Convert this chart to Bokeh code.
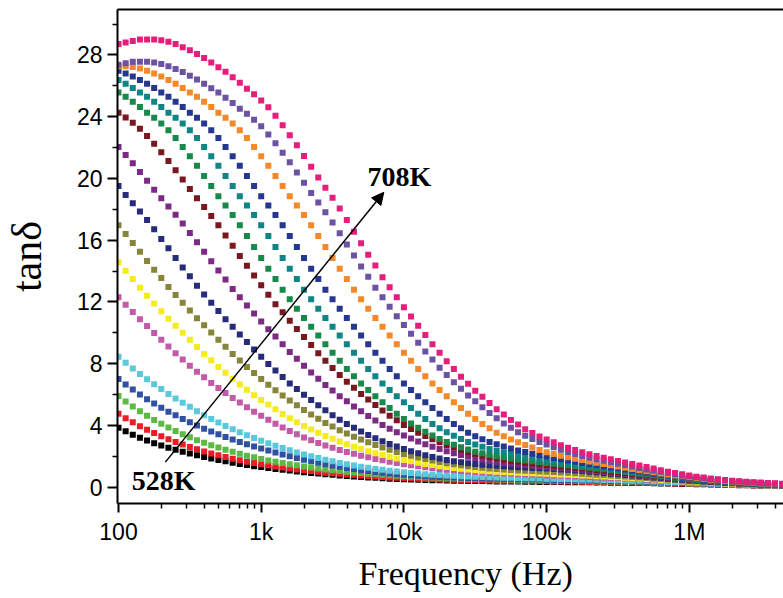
from bokeh.plotting import figure
from bokeh.models import Range1d, FixedTicker, LogAxis, Label, Arrow, NormalHead, Title
from bokeh.embed import file_html
from bokeh.resources import INLINE

freq = [100, 112.2, 125.9, 141.3, 158.5, 177.8, 199.5, 223.9, 251.2, 281.8,
        316.2, 354.8, 398.1, 446.7, 501.2, 562.3, 631, 707.9, 794.3, 891.3,
        1000, 1122, 1259, 1413, 1585, 1778, 1995, 2239, 2512, 2818,
        3162, 3548, 3981, 4467, 5012, 5623, 6310, 7079, 7943, 8913,
        10000, 11220, 12590, 14130, 15850, 17780, 19950, 22390, 25120, 28180,
        31620, 35480, 39810, 44670, 50120, 56230, 63100, 70790, 79430, 89130,
        100000, 112200, 125900, 141300, 158500, 177800, 199500, 223900, 251200, 281800,
        316200, 354800, 398100, 446700, 501200, 562300, 631000, 707900, 794300, 891300,
        1000000, 1122000, 1259000, 1413000, 1585000, 1778000, 1995000, 2239000, 2512000, 2818000,
        3162000, 3548000, 3981000, 4467000, 5012000, 5623000]

t528 = [3.85, 3.62, 3.4, 3.2, 3.02, 2.85, 2.69, 2.55, 2.42, 2.3,
        2.18, 2.07, 1.96, 1.86, 1.76, 1.67, 1.58, 1.5, 1.43, 1.36,
        1.3, 1.24, 1.18, 1.12, 1.07, 1.02, 0.97, 0.92, 0.88, 0.84,
        0.8, 0.76, 0.72, 0.69, 0.66, 0.63, 0.6, 0.57, 0.55, 0.53,
        0.51, 0.49, 0.48, 0.46, 0.45, 0.44, 0.43, 0.42, 0.41, 0.4,
        0.39, 0.39, 0.38, 0.37, 0.37, 0.36, 0.36, 0.35, 0.35, 0.34,
        0.34, 0.33, 0.33, 0.32, 0.32, 0.31, 0.31, 0.3, 0.3, 0.29,
        0.29, 0.28, 0.27, 0.27, 0.26, 0.25, 0.24, 0.23, 0.22, 0.21,
        0.2, 0.19, 0.18, 0.17, 0.16, 0.15, 0.14, 0.13, 0.12, 0.11,
        0.1, 0.09, 0.08, 0.07, 0.06, 0.05]
t1 = [4.75, 4.47, 4.2, 3.95, 3.72, 3.5, 3.3, 3.11, 2.93, 2.76,
      2.6, 2.45, 2.31, 2.18, 2.06, 1.95, 1.84, 1.74, 1.65, 1.56,
      1.48, 1.41, 1.34, 1.27, 1.21, 1.15, 1.09, 1.04, 0.99, 0.94,
      0.9, 0.86, 0.82, 0.78, 0.75, 0.72, 0.69, 0.66, 0.63, 0.61,
      0.59, 0.57, 0.55, 0.53, 0.52, 0.5, 0.49, 0.48, 0.47, 0.46,
      0.45, 0.44, 0.43, 0.42, 0.42, 0.41, 0.4, 0.4, 0.39, 0.39,
      0.38, 0.37, 0.37, 0.36, 0.36, 0.35, 0.34, 0.34, 0.33, 0.32,
      0.32, 0.31, 0.3, 0.29, 0.28, 0.27, 0.26, 0.25, 0.24, 0.23,
      0.22, 0.21, 0.2, 0.19, 0.18, 0.17, 0.16, 0.15, 0.14, 0.13,
      0.12, 0.1, 0.09, 0.08, 0.07, 0.06]
t2 = [5.9, 5.55, 5.22, 4.91, 4.62, 4.35, 4.1, 3.86, 3.64, 3.43,
      3.23, 3.04, 2.87, 2.71, 2.56, 2.42, 2.29, 2.16, 2.04, 1.93,
      1.83, 1.73, 1.64, 1.56, 1.48, 1.41, 1.34, 1.27, 1.21, 1.15,
      1.1, 1.05, 1.0, 0.95, 0.91, 0.87, 0.83, 0.8, 0.77, 0.74,
      0.71, 0.68, 0.66, 0.64, 0.62, 0.6, 0.58, 0.57, 0.55, 0.54,
      0.53, 0.52, 0.51, 0.5, 0.49, 0.48, 0.47, 0.46, 0.46, 0.45,
      0.44, 0.43, 0.43, 0.42, 0.41, 0.4, 0.39, 0.38, 0.38, 0.37,
      0.36, 0.35, 0.34, 0.33, 0.32, 0.31, 0.29, 0.28, 0.27, 0.26,
      0.24, 0.23, 0.22, 0.21, 0.19, 0.18, 0.17, 0.16, 0.15, 0.14,
      0.13, 0.11, 0.1, 0.09, 0.08, 0.07]
t3 = [7.0, 6.65, 6.32, 6.0, 5.7, 5.42, 5.15, 4.89, 4.65, 4.42,
      4.2, 3.99, 3.79, 3.6, 3.42, 3.25, 3.09, 2.93, 2.78, 2.64,
      2.5, 2.37, 2.24, 2.12, 2.0, 1.89, 1.78, 1.68, 1.58, 1.49,
      1.4, 1.32, 1.24, 1.17, 1.1, 1.04, 0.98, 0.93, 0.88, 0.84,
      0.8, 0.77, 0.74, 0.71, 0.68, 0.66, 0.64, 0.62, 0.6, 0.59,
      0.57, 0.56, 0.55, 0.54, 0.53, 0.52, 0.51, 0.5, 0.49, 0.49,
      0.48, 0.47, 0.46, 0.45, 0.45, 0.44, 0.43, 0.42, 0.41, 0.4,
      0.39, 0.38, 0.37, 0.36, 0.35, 0.33, 0.32, 0.3, 0.29, 0.27,
      0.26, 0.25, 0.23, 0.22, 0.21, 0.19, 0.18, 0.17, 0.16, 0.15,
      0.13, 0.12, 0.11, 0.1, 0.09, 0.07]
t4 = [8.44, 8.06, 7.68, 7.33, 6.99, 6.66, 6.35, 6.03, 5.74, 5.47,
      5.2, 4.92, 4.66, 4.42, 4.18, 3.96, 3.75, 3.55, 3.36, 3.18,
      3.01, 2.84, 2.68, 2.53, 2.39, 2.25, 2.12, 2.0, 1.88, 1.77,
      1.67, 1.57, 1.48, 1.4, 1.32, 1.25, 1.18, 1.12, 1.06, 1.01,
      0.96, 0.92, 0.88, 0.84, 0.81, 0.78, 0.75, 0.73, 0.71, 0.69,
      0.67, 0.65, 0.64, 0.62, 0.61, 0.6, 0.59, 0.58, 0.57, 0.56,
      0.55, 0.54, 0.53, 0.52, 0.51, 0.5, 0.49, 0.48, 0.47, 0.46,
      0.45, 0.43, 0.42, 0.41, 0.39, 0.37, 0.36, 0.34, 0.32, 0.31,
      0.29, 0.27, 0.26, 0.24, 0.22, 0.21, 0.19, 0.18, 0.16, 0.15,
      0.14, 0.12, 0.11, 0.1, 0.09, 0.08]
t5 = [12.3, 11.82, 11.35, 10.88, 10.43, 9.99, 9.55, 9.11, 8.68, 8.27,
      7.87, 7.48, 7.12, 6.75, 6.42, 6.09, 5.77, 5.48, 5.18, 4.89,
      4.62, 4.36, 4.1, 3.86, 3.63, 3.42, 3.22, 3.03, 2.86, 2.7,
      2.55, 2.41, 2.28, 2.16, 2.04, 1.93, 1.83, 1.74, 1.65, 1.57,
      1.49, 1.42, 1.35, 1.29, 1.23, 1.18, 1.13, 1.09, 1.05, 1.01,
      0.98, 0.95, 0.92, 0.9, 0.88, 0.86, 0.84, 0.82, 0.8, 0.78,
      0.76, 0.74, 0.73, 0.71, 0.69, 0.67, 0.65, 0.63, 0.61, 0.59,
      0.57, 0.55, 0.53, 0.51, 0.48, 0.46, 0.44, 0.41, 0.39, 0.36,
      0.34, 0.32, 0.29, 0.27, 0.25, 0.23, 0.21, 0.19, 0.17, 0.16,
      0.14, 0.13, 0.11, 0.1, 0.09, 0.07]
t6 = [14.57, 14.01, 13.48, 12.91, 12.39, 11.9, 11.4, 10.91, 10.45, 10.0,
      9.54, 9.08, 8.63, 8.22, 7.79, 7.41, 7.02, 6.65, 6.31, 5.96,
      5.65, 5.35, 5.04, 4.74, 4.47, 4.2, 3.96, 3.73, 3.52, 3.32,
      3.13, 2.95, 2.78, 2.62, 2.47, 2.33, 2.2, 2.08, 1.96, 1.86,
      1.76, 1.67, 1.58, 1.5, 1.43, 1.36, 1.3, 1.24, 1.19, 1.14,
      1.1, 1.06, 1.03, 1.0, 0.98, 0.96, 0.94, 0.92, 0.9, 0.88,
      0.86, 0.84, 0.82, 0.8, 0.78, 0.76, 0.74, 0.71, 0.69, 0.66,
      0.64, 0.61, 0.58, 0.56, 0.53, 0.5, 0.47, 0.44, 0.41, 0.38,
      0.36, 0.33, 0.31, 0.28, 0.26, 0.24, 0.22, 0.2, 0.18, 0.17,
      0.15, 0.13, 0.12, 0.1, 0.09, 0.08]
t7 = [16.97, 16.39, 15.81, 15.24, 14.65, 14.08, 13.54, 12.97, 12.45, 11.94,
      11.44, 10.94, 10.48, 10.01, 9.55, 9.09, 8.63, 8.21, 7.78, 7.39,
      7.0, 6.63, 6.28, 5.93, 5.62, 5.31, 5.0, 4.7, 4.43, 4.16,
      3.92, 3.69, 3.47, 3.27, 3.08, 2.9, 2.73, 2.57, 2.42, 2.28,
      2.15, 2.03, 1.92, 1.82, 1.72, 1.63, 1.55, 1.48, 1.41, 1.35,
      1.3, 1.25, 1.21, 1.17, 1.14, 1.11, 1.08, 1.06, 1.04, 1.02,
      1.0, 0.98, 0.95, 0.93, 0.9, 0.87, 0.84, 0.81, 0.78, 0.75,
      0.72, 0.69, 0.65, 0.62, 0.59, 0.55, 0.52, 0.48, 0.45, 0.42,
      0.39, 0.36, 0.33, 0.31, 0.28, 0.26, 0.24, 0.22, 0.2, 0.18,
      0.16, 0.14, 0.13, 0.11, 0.1, 0.08]
t8 = [19.5, 18.93, 18.39, 17.85, 17.3, 16.7, 16.08, 15.47, 14.85, 14.23,
      13.66, 13.05, 12.48, 11.94, 11.41, 10.88, 10.39, 9.89, 9.4, 8.91,
      8.44, 7.98, 7.55, 7.13, 6.72, 6.35, 5.98, 5.64, 5.31, 4.98,
      4.66, 4.37, 4.09, 3.84, 3.6, 3.38, 3.17, 2.98, 2.8, 2.63,
      2.47, 2.32, 2.19, 2.06, 1.95, 1.85, 1.76, 1.68, 1.61, 1.55,
      1.5, 1.45, 1.41, 1.38, 1.35, 1.32, 1.29, 1.27, 1.24, 1.22,
      1.2, 1.18, 1.15, 1.12, 1.08, 1.04, 1.0, 0.96, 0.92, 0.87,
      0.83, 0.79, 0.75, 0.71, 0.67, 0.63, 0.59, 0.55, 0.51, 0.47,
      0.43, 0.4, 0.37, 0.34, 0.31, 0.28, 0.26, 0.23, 0.21, 0.19,
      0.17, 0.15, 0.13, 0.12, 0.1, 0.09]
t9 = [22.04, 21.51, 20.98, 20.42, 19.84, 19.27, 18.71, 18.18, 17.65, 17.08,
      16.47, 15.86, 15.25, 14.63, 14.03, 13.45, 12.84, 12.3, 11.77, 11.24,
      10.73, 10.23, 9.75, 9.25, 8.76, 8.31, 7.86, 7.43, 7.02, 6.62,
      6.26, 5.89, 5.56, 5.23, 4.91, 4.6, 4.31, 4.03, 3.79, 3.56,
      3.35, 3.15, 2.96, 2.78, 2.62, 2.47, 2.33, 2.2, 2.08, 1.97,
      1.87, 1.78, 1.7, 1.63, 1.57, 1.52, 1.47, 1.43, 1.39, 1.35,
      1.32, 1.28, 1.24, 1.2, 1.16, 1.12, 1.07, 1.03, 0.98, 0.93,
      0.88, 0.84, 0.79, 0.75, 0.71, 0.66, 0.62, 0.58, 0.54, 0.5,
      0.46, 0.42, 0.39, 0.36, 0.33, 0.3, 0.27, 0.25, 0.22, 0.2,
      0.18, 0.16, 0.14, 0.12, 0.11, 0.09]
t10 = [24.25, 23.94, 23.6, 23.21, 22.75, 22.24, 21.69, 21.12, 20.53, 19.92,
       19.31, 18.71, 18.14, 17.57, 16.96, 16.3, 15.64, 14.98, 14.34, 13.71,
       13.07, 12.46, 11.84, 11.33, 10.77, 10.25, 9.72, 9.2, 8.67, 8.19,
       7.71, 7.27, 6.83, 6.43, 6.04, 5.67, 5.32, 4.97, 4.63, 4.33,
       4.03, 3.77, 3.53, 3.31, 3.1, 2.91, 2.73, 2.57, 2.42, 2.28,
       2.15, 2.04, 1.94, 1.85, 1.77, 1.7, 1.64, 1.58, 1.53, 1.48,
       1.44, 1.39, 1.34, 1.3, 1.25, 1.21, 1.16, 1.11, 1.06, 1.01,
       0.96, 0.91, 0.86, 0.81, 0.76, 0.71, 0.67, 0.62, 0.57, 0.53,
       0.48, 0.44, 0.4, 0.37, 0.34, 0.31, 0.28, 0.25, 0.23, 0.2,
       0.18, 0.16, 0.14, 0.12, 0.11, 0.1]
t11 = [25.57, 25.29, 24.96, 24.63, 24.25, 23.92, 23.55, 23.12, 22.61, 22.04,
       21.43, 20.82, 20.16, 19.51, 18.85, 18.24, 17.63, 16.97, 16.26, 15.56,
       14.85, 14.15, 13.49, 12.78, 12.17, 11.56, 10.95, 10.39, 9.82, 9.26,
       8.7, 8.18, 7.66, 7.19, 6.72, 6.3, 5.88, 5.5, 5.12, 4.75,
       4.42, 4.12, 3.84, 3.58, 3.34, 3.12, 2.92, 2.74, 2.58, 2.43,
       2.3, 2.2, 2.1, 2.01, 1.93, 1.86, 1.79, 1.73, 1.67, 1.62,
       1.57, 1.51, 1.46, 1.41, 1.36, 1.31, 1.26, 1.21, 1.16, 1.1,
       1.04, 0.98, 0.93, 0.87, 0.82, 0.77, 0.71, 0.66, 0.61, 0.56,
       0.51, 0.47, 0.43, 0.39, 0.36, 0.33, 0.3, 0.27, 0.24, 0.21,
       0.19, 0.17, 0.15, 0.13, 0.12, 0.11]
t12 = [26.37, 26.13, 25.85, 25.57, 25.29, 24.96, 24.63, 24.25, 23.92, 23.55,
       23.12, 22.61, 22.04, 21.43, 20.82, 20.16, 19.51, 18.85, 18.24, 17.63,
       16.97, 16.26, 15.56, 14.85, 14.15, 13.49, 12.78, 12.17, 11.56, 10.95,
       10.39, 9.82, 9.26, 8.7, 8.18, 7.66, 7.19, 6.72, 6.3, 5.88,
       5.5, 5.12, 4.75, 4.42, 4.09, 3.81, 3.56, 3.33, 3.12, 2.93,
       2.76, 2.61, 2.47, 2.35, 2.24, 2.14, 2.05, 1.97, 1.89, 1.82,
       1.75, 1.68, 1.61, 1.55, 1.49, 1.43, 1.37, 1.31, 1.25, 1.18,
       1.12, 1.06, 1.0, 0.94, 0.88, 0.82, 0.76, 0.7, 0.64, 0.59,
       0.54, 0.5, 0.46, 0.42, 0.38, 0.35, 0.32, 0.29, 0.26, 0.23,
       0.2, 0.18, 0.16, 0.14, 0.13, 0.12]
t13 = [26.98, 26.79, 26.6, 26.37, 26.13, 25.85, 25.57, 25.29, 24.96, 24.63,
       24.25, 23.92, 23.55, 23.12, 22.61, 22.04, 21.43, 20.82, 20.16, 19.51,
       18.85, 18.24, 17.63, 16.97, 16.26, 15.56, 14.85, 14.15, 13.49, 12.78,
       12.17, 11.56, 10.95, 10.39, 9.82, 9.26, 8.7, 8.18, 7.66, 7.19,
       6.72, 6.3, 5.88, 5.5, 5.12, 4.75, 4.42, 4.09, 3.81, 3.53,
       3.3, 3.1, 2.93, 2.77, 2.63, 2.5, 2.38, 2.27, 2.17, 2.07,
       1.98, 1.89, 1.8, 1.72, 1.64, 1.56, 1.49, 1.42, 1.35, 1.28,
       1.22, 1.15, 1.08, 1.01, 0.94, 0.87, 0.81, 0.75, 0.69, 0.63,
       0.58, 0.53, 0.48, 0.44, 0.4, 0.36, 0.33, 0.3, 0.27, 0.24,
       0.22, 0.2, 0.18, 0.16, 0.14, 0.13]
t14 = [27.26, 27.26, 27.21, 27.12, 26.98, 26.79, 26.6, 26.37, 26.13, 25.85,
       25.57, 25.29, 24.96, 24.63, 24.25, 23.92, 23.55, 23.12, 22.61, 22.04,
       21.43, 20.82, 20.16, 19.51, 18.85, 18.24, 17.63, 16.97, 16.26, 15.56,
       14.85, 14.15, 13.49, 12.78, 12.17, 11.56, 10.95, 10.39, 9.82, 9.26,
       8.7, 8.18, 7.66, 7.19, 6.72, 6.3, 5.88, 5.5, 5.12, 4.75,
       4.42, 4.09, 3.81, 3.53, 3.29, 3.08, 2.9, 2.73, 2.56, 2.4,
       2.26, 2.14, 2.03, 1.93, 1.84, 1.75, 1.66, 1.58, 1.5, 1.42,
       1.34, 1.26, 1.18, 1.1, 1.03, 0.96, 0.89, 0.82, 0.76, 0.7,
       0.64, 0.58, 0.53, 0.48, 0.44, 0.4, 0.36, 0.33, 0.3, 0.27,
       0.24, 0.22, 0.2, 0.18, 0.16, 0.15]
t15 = [27.36, 27.46, 27.55, 27.55, 27.55, 27.5, 27.41, 27.27, 27.08, 26.89,
       26.65, 26.41, 26.13, 25.84, 25.56, 25.22, 24.89, 24.51, 24.18, 23.8,
       23.37, 22.85, 22.28, 21.66, 21.04, 20.38, 19.71, 19.05, 18.43, 17.81,
       17.15, 16.44, 15.72, 15.01, 14.3, 13.63, 12.92, 12.3, 11.69, 11.07,
       10.5, 9.93, 9.36, 8.79, 8.27, 7.74, 7.27, 6.79, 6.37, 5.94,
       5.56, 5.18, 4.8, 4.47, 4.13, 3.85, 3.56, 3.33, 3.12, 2.93,
       2.76, 2.58, 2.42, 2.28, 2.15, 2.02, 1.91, 1.81, 1.71, 1.62,
       1.52, 1.43, 1.33, 1.24, 1.15, 1.07, 0.99, 0.91, 0.83, 0.76,
       0.7, 0.64, 0.58, 0.53, 0.48, 0.44, 0.4, 0.36, 0.33, 0.3,
       0.27, 0.24, 0.22, 0.2, 0.18, 0.16]
t708 = [28.7, 28.8, 28.9, 29.0, 29.0, 29.0, 28.95, 28.85, 28.7, 28.5,
        28.3, 28.05, 27.8, 27.5, 27.2, 26.9, 26.55, 26.2, 25.8, 25.45,
        25.05, 24.6, 24.05, 23.45, 22.8, 22.15, 21.45, 20.75, 20.05, 19.4,
        18.75, 18.05, 17.3, 16.55, 15.8, 15.05, 14.35, 13.6, 12.95, 12.3,
        11.65, 11.05, 10.45, 9.85, 9.25, 8.7, 8.15, 7.65, 7.15, 6.7,
        6.25, 5.85, 5.45, 5.05, 4.7, 4.35, 4.05, 3.75, 3.5, 3.28,
        3.08, 2.9, 2.72, 2.55, 2.4, 2.26, 2.13, 2.01, 1.9, 1.8,
        1.7, 1.6, 1.5, 1.4, 1.3, 1.2, 1.1, 1.0, 0.91, 0.83,
        0.75, 0.68, 0.62, 0.56, 0.51, 0.46, 0.42, 0.38, 0.35, 0.32,
        0.3, 0.27, 0.25, 0.22, 0.2, 0.18]

series = [t528, t1, t2, t3, t4, t5, t6, t7, t8, t9, t10, t11, t12, t13, t14, t15, t708]
colors = ["#000000", "#ED1C24", "#5CB946", "#3050A2", "#5CC8DC", "#C25AA8",
          "#F5EB1E", "#86853A", "#262B7A", "#7C2B84", "#7A1820", "#17894A",
          "#0F8585", "#263791", "#F4892A", "#6B52A2", "#E61E7B"]

x_ticks = [100, 1000, 10000, 100000, 1000000]
x_tick_labels = ["100", "1k", "10k", "100k", "1M"]
y_ticks = [0, 4, 8, 12, 16, 20, 24, 28]

p = figure(x_axis_type="log", frame_width=666, frame_height=494,
           x_range=Range1d(98.4, 4.57e6), y_range=Range1d(-1.06, 30.94),
           output_backend="svg", toolbar_location=None,
           min_border_left=117, min_border_right=0, min_border_top=9, min_border_bottom=95)
p.grid.visible = False
p.outline_line_color = None
p.background_fill_color = "white"
p.border_fill_color = "white"

for ys, c in zip(series, colors):
    p.scatter(freq, ys, marker="square", size=6, fill_color=c, line_color=c, line_width=0)

minor_x = []
for d in [100, 1000, 10000, 100000, 1000000]:
    for m in range(2, 10):
        minor_x.append(d * m)
p.xaxis.ticker = FixedTicker(ticks=x_ticks, minor_ticks=minor_x)
p.xaxis.major_label_overrides = {float(t): s for t, s in zip(x_ticks, x_tick_labels)}
p.yaxis.ticker = FixedTicker(ticks=y_ticks, minor_ticks=[2, 6, 10, 14, 18, 22, 26, 30])

for ax in (p.xaxis[0], p.yaxis[0]):
    ax.axis_line_width = 2
    ax.axis_line_color = "black"
    ax.major_tick_line_width = 2
    ax.minor_tick_line_width = 1.5
    ax.major_tick_in = 0
    ax.minor_tick_in = 0
    ax.major_label_text_font = "Liberation Sans"
    ax.major_label_text_font_size = "23px"
    ax.major_label_text_color = "black"
p.xaxis.major_tick_out = 9
p.xaxis.minor_tick_out = 5
p.yaxis.major_tick_out = 10
p.yaxis.minor_tick_out = 5
p.xaxis.major_label_standoff = 6
p.yaxis.major_label_standoff = 5

p.yaxis.axis_label = "tanδ"
p.yaxis.axis_label_text_font = "Liberation Serif"
p.yaxis.axis_label_text_font_size = "42px"
p.yaxis.axis_label_text_font_style = "normal"
p.yaxis.axis_label_text_color = "black"
p.yaxis.axis_label_standoff = 24

top = LogAxis(ticker=FixedTicker(ticks=[]), major_label_text_font_size="0px",
              major_tick_line_color=None, minor_tick_line_color=None,
              axis_line_width=2, axis_line_color="black")
p.add_layout(top, "above")

p.add_layout(Title(text="Frequency (Hz)", text_font="Liberation Serif",
                   text_font_size="34px", text_font_style="normal", text_color="black",
                   align="left", offset=241, standoff=10), "below")

p.add_layout(Arrow(end=NormalHead(size=12, fill_color="black", line_color="black", line_width=1),
                   x_start=213, y_start=1.62, x_end=7230, y_end=19.1,
                   line_width=1.5, line_color="black"))
p.add_layout(Label(x=5560, y=20.1, text="708K", text_font="Liberation Serif",
                   text_font_style="bold", text_font_size="28px", text_align="left",
                   text_baseline="alphabetic", text_color="black"))
p.add_layout(Label(x=207, y=0.45, text="528K", text_font="Liberation Serif",
                   text_font_style="bold", text_font_size="28px", text_align="center",
                   text_baseline="alphabetic", text_color="black"))

open("out.html", "w").write(file_html(p, INLINE))
